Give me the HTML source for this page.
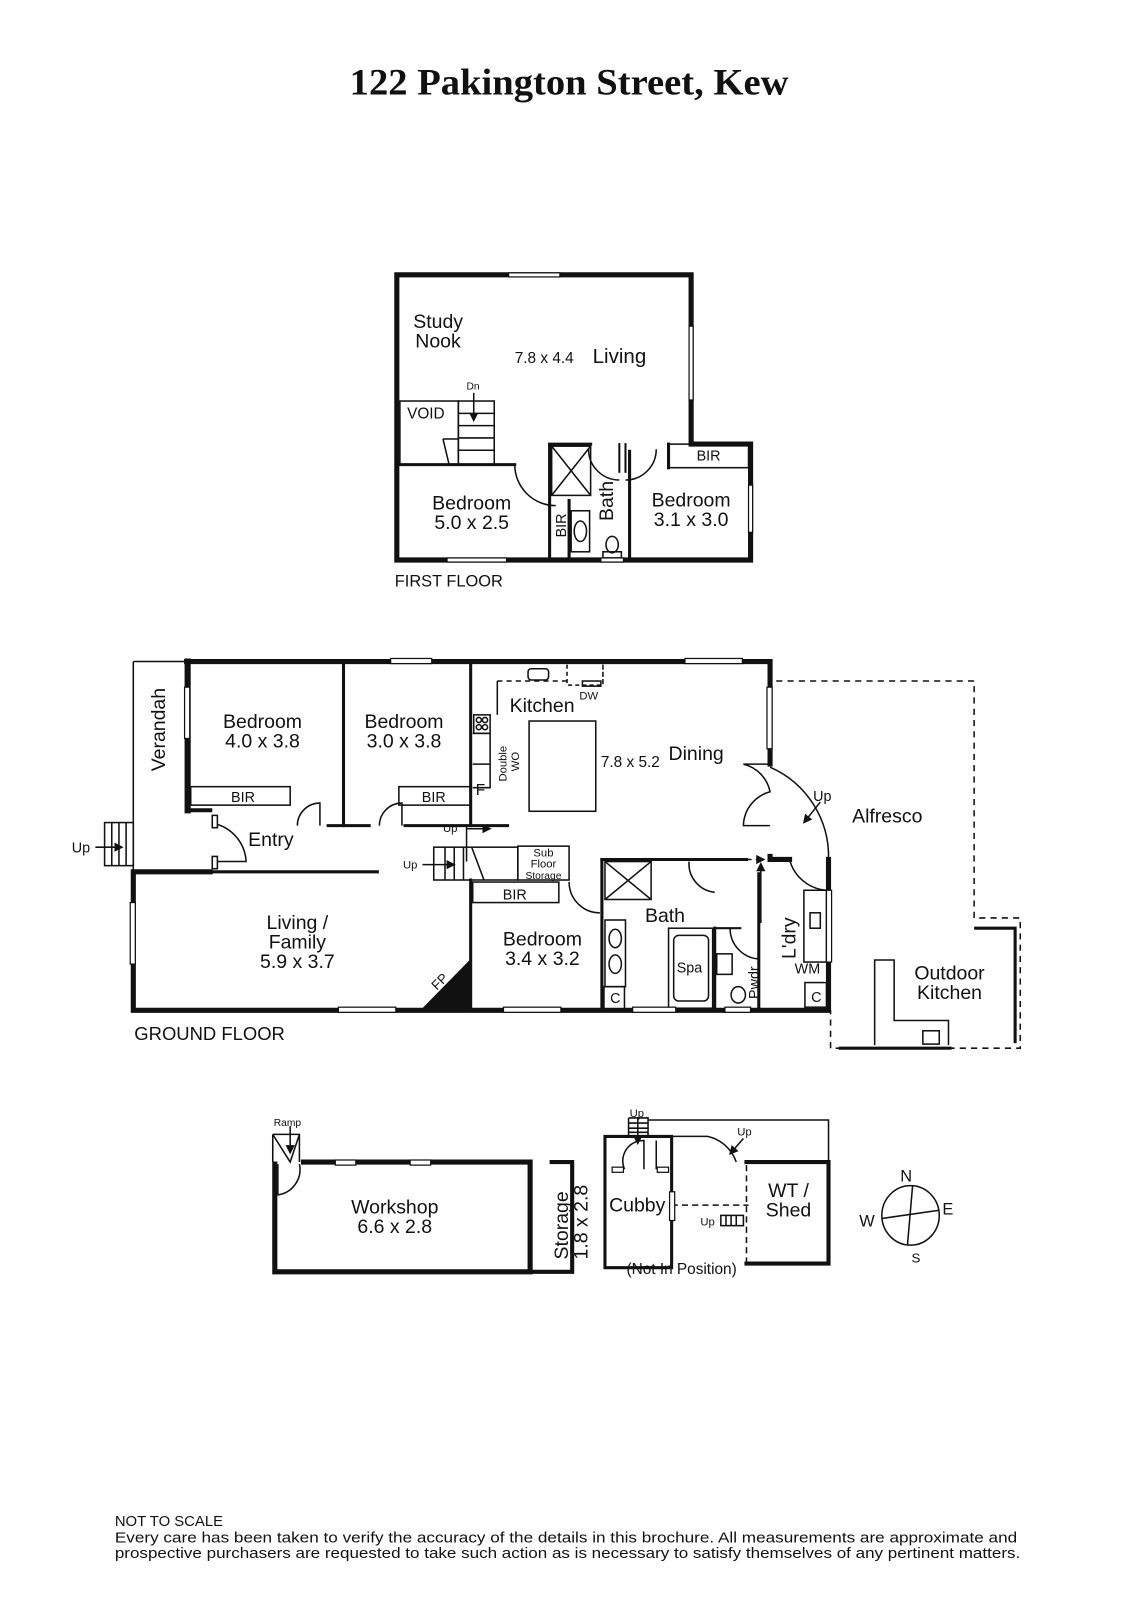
<!DOCTYPE html>
<html><head><meta charset="utf-8"><style>
html,body{margin:0;padding:0;background:#fff}
svg{display:block}
text{font-family:"Liberation Sans",sans-serif;fill:#111}
</style></head><body>
<svg width="1131" height="1600" viewBox="0 0 1103 1560" preserveAspectRatio="none" xmlns="http://www.w3.org/2000/svg">
<defs>
<marker id="ar" markerWidth="6" markerHeight="6" refX="5" refY="3" orient="auto"><path d="M0,0 L6,3 L0,6z" fill="#111"/></marker>
</defs>
<text x="555" y="92" text-anchor="middle" textLength="428" lengthAdjust="spacingAndGlyphs" style="font-family:'Liberation Serif',serif;font-weight:bold;font-size:36px">122 Pakington Street, Kew</text>

<!-- FIRST FLOOR -->
<g fill="none" stroke="#111" stroke-linecap="square">
<path d="M387,268 H674 V433 H732 V546 H387 Z" stroke-width="5"/>
<line x1="387" y1="453" x2="502" y2="453" stroke-width="3"/>
<line x1="536" y1="434" x2="536" y2="546" stroke-width="3"/>
<line x1="536" y1="433" x2="576" y2="433" stroke-width="3"/>
<line x1="614" y1="440" x2="614" y2="546" stroke-width="3"/>
<line x1="652" y1="433" x2="652" y2="456" stroke-width="3"/>
<line x1="604" y1="433" x2="604" y2="460" stroke-width="2"/>
<line x1="610" y1="433" x2="610" y2="460" stroke-width="2"/>
<line x1="555" y1="488" x2="555" y2="546" stroke-width="3"/>
</g>
<g fill="none" stroke="#111" stroke-width="1.5">
<rect x="390" y="391" width="57" height="62"/>
<rect x="447" y="391" width="35" height="62"/>
<line x1="447" y1="403" x2="482" y2="403"/><line x1="447" y1="415" x2="482" y2="415"/><line x1="447" y1="427" x2="482" y2="427"/><line x1="447" y1="439" x2="482" y2="439"/>
<line x1="432" y1="428" x2="447" y2="428"/><line x1="432" y1="428" x2="438" y2="453"/>
<line x1="462" y1="383" x2="462" y2="410" marker-end="url(#ar)"/>
<rect x="538" y="435" width="38" height="48"/><line x1="538" y1="435" x2="576" y2="483"/><line x1="576" y1="435" x2="538" y2="483"/>
<rect x="557" y="498" width="18" height="40"/><ellipse cx="566" cy="518" rx="6" ry="10"/>
<ellipse cx="597" cy="531" rx="6" ry="8"/><rect x="588" y="538" width="18" height="6"/>
<path d="M502,453 A40,40 0 0 0 542,493"/>
<path d="M574,438 A30,30 0 0 0 604,468"/>
<path d="M610,468 A30,30 0 0 0 640,438"/>
<rect x="652" y="433" width="78" height="23"/>
</g>
<g fill="#fff" stroke="#111" stroke-width="1.2">
<rect x="496" y="266" width="50" height="4"/><rect x="672" y="318" width="4" height="72"/><rect x="730" y="473" width="4" height="46"/><rect x="436" y="544" width="58" height="4"/><rect x="586" y="544" width="22" height="4"/>
</g>
<g font-size="19">
<text x="403" y="320">Study</text><text x="405" y="339">Nook</text>
<text x="502" y="354" font-size="15">7.8 x 4.4</text><text x="578" y="354" font-size="20">Living</text>
<text x="397" y="408" font-size="15">VOID</text><text x="455" y="380" font-size="10">Dn</text>
<text x="460" y="497" text-anchor="middle">Bedroom</text><text x="460" y="516" text-anchor="middle">5.0 x 2.5</text>
<text x="674" y="494" text-anchor="middle">Bedroom</text><text x="674" y="513" text-anchor="middle">3.1 x 3.0</text>
<text x="691" y="449" text-anchor="middle" font-size="14">BIR</text>
<text transform="translate(552,524) rotate(-90)" font-size="14">BIR</text>
<text transform="translate(598,508) rotate(-90)">Bath</text>
<text x="385" y="572" font-size="16">FIRST FLOOR</text>
</g>

<!-- GROUND FLOOR -->
<g fill="none" stroke="#111" stroke-linecap="square">
<path d="M182,645 H751 V745" stroke-width="5"/>
<path d="M751,835 V838 H770" stroke-width="5"/>
<path d="M808,838 V985 H130 V850 H205" stroke-width="5"/>
<line x1="183" y1="645" x2="183" y2="790" stroke-width="6"/>
<line x1="183" y1="790" x2="205" y2="790" stroke-width="4"/>
<line x1="205" y1="850" x2="368" y2="850" stroke-width="3"/>
<line x1="335" y1="645" x2="335" y2="805" stroke-width="3"/>
<line x1="459" y1="645" x2="459" y2="805" stroke-width="3"/>
<line x1="320" y1="805" x2="360" y2="805" stroke-width="3"/>
<line x1="395" y1="805" x2="495" y2="805" stroke-width="3"/>
<line x1="459" y1="858" x2="459" y2="985" stroke-width="3"/>
<line x1="587" y1="838" x2="587" y2="985" stroke-width="3"/>
<line x1="587" y1="838" x2="728" y2="838" stroke-width="3"/>
<line x1="740" y1="852" x2="740" y2="985" stroke-width="3"/>
<line x1="697" y1="905" x2="697" y2="985" stroke-width="3"/>
<line x1="697" y1="905" x2="722" y2="905" stroke-width="2"/>
</g>
<g fill="none" stroke="#111" stroke-width="1.5">
<path d="M130,645 V850 M130,645 H182"/>
<rect x="102" y="802" width="28" height="42"/><line x1="109" y1="802" x2="109" y2="844"/><line x1="116" y1="802" x2="116" y2="844"/><line x1="123" y1="802" x2="123" y2="844"/>
<line x1="93" y1="826" x2="119" y2="826" marker-end="url(#ar)"/>
<rect x="186" y="767" width="97" height="18"/>
<rect x="389" y="767" width="70" height="18"/>
<path d="M290,805 A22,22 0 0 1 312,783 V805"/>
<path d="M370,805 A22,22 0 0 1 392,783 V805"/>
<path d="M209,803 A40,40 0 0 1 240,840 H209"/>
<rect x="207" y="795" width="5" height="12" fill="#fff"/><rect x="207" y="835" width="5" height="12" fill="#fff"/>
<line x1="455" y1="805" x2="455" y2="840"/>
<line x1="455" y1="808" x2="478" y2="808" marker-end="url(#ar)"/>
<rect x="423" y="826" width="82" height="32"/><line x1="434" y1="826" x2="434" y2="858"/><line x1="443" y1="826" x2="443" y2="858"/><line x1="452" y1="826" x2="452" y2="858"/><line x1="460" y1="826" x2="472" y2="858"/>
<line x1="412" y1="843" x2="443" y2="843" marker-end="url(#ar)"/>
<rect x="505" y="825" width="50" height="33"/>
<rect x="461" y="860" width="84" height="20"/>
<path d="M555,860 A30,30 0 0 0 585,890"/>
<rect x="462" y="697" width="16" height="18"/><circle cx="467" cy="702" r="2.5"/><circle cx="473" cy="702" r="2.5"/><circle cx="467" cy="709" r="2.5"/><circle cx="473" cy="709" r="2.5"/>
<path d="M461,715 H478 V768 H461 M461,745 H478"/>
<line x1="485" y1="664" x2="485" y2="697"/>
<rect x="515" y="652" width="20" height="11" rx="3"/>
<path d="M485,664 H555" stroke-dasharray="5,4"/>
<path d="M553,648 V668 H588 V648 M588,648 V668" stroke-dasharray="4,3"/>
<rect x="568" y="664" width="18" height="5"/>
<rect x="516" y="703" width="65" height="88"/>
<rect x="590" y="840" width="45" height="37"/><path d="M590,840 L635,877 M635,840 L590,877"/>
<rect x="590" y="897" width="20" height="65"/><ellipse cx="600" cy="915" rx="6" ry="9"/><ellipse cx="600" cy="940" rx="6" ry="9"/>
<rect x="589" y="962" width="20" height="22"/>
<rect x="652" y="905" width="43" height="78"/><rect x="657" y="912" width="34" height="64" rx="5"/>
<path d="M672,840 A28,28 0 0 0 697,870"/>
<rect x="699" y="930" width="15" height="20"/>
<path d="M712,905 A30,30 0 0 0 740,935"/>
<ellipse cx="720" cy="970" rx="7" ry="8"/>
<line x1="710" y1="838" x2="745" y2="838" stroke-dasharray="5,4" marker-end="url(#ar)"/>
<line x1="742" y1="900" x2="742" y2="842" marker-end="url(#ar)"/>
<rect x="784" y="868" width="22" height="70"/><rect x="790" y="890" width="10" height="15"/>
<rect x="785" y="958" width="21" height="24"/>
<path d="M751,745 H725 A35,35 0 0 1 751,772 A35,35 0 0 0 725,805 H751"/>
<path d="M751,748 A95,95 0 0 1 808,838"/>
<path d="M770,838 A40,40 0 0 0 806,868"/>
<line x1="800" y1="782" x2="784" y2="802" marker-end="url(#ar)"/>
<path d="M757,664 H950 V895 H995 V1022 H810 V985" stroke-dasharray="6,5"/>
<path d="M950,905 H990 V1017" stroke-width="3"/>
<line x1="818" y1="1022" x2="928" y2="1022" stroke-width="3"/>
<path d="M853,1019 V936 H872 V995 H925 V1019"/>
<rect x="900" y="1005" width="16" height="13"/>
</g>
<path d="M410,985 L459,935 L459,985 Z" fill="#111"/>
<g fill="#fff" stroke="#111" stroke-width="1.2">
<rect x="381" y="642" width="40" height="5"/><rect x="668" y="642" width="56" height="5"/>
<rect x="180" y="670" width="5" height="50"/><rect x="127" y="880" width="5" height="60"/>
<rect x="748" y="670" width="5" height="60"/><rect x="806" y="868" width="5" height="70"/>
<rect x="330" y="982" width="56" height="5"/><rect x="491" y="982" width="56" height="5"/><rect x="617" y="982" width="42" height="5"/><rect x="707" y="982" width="25" height="5"/>
</g>
<g font-size="19">
<text transform="translate(161,752) rotate(-90)">Verandah</text>
<text x="70" y="831" font-size="14">Up</text>
<text x="256" y="710" text-anchor="middle">Bedroom</text><text x="256" y="729" text-anchor="middle">4.0 x 3.8</text>
<text x="394" y="710" text-anchor="middle">Bedroom</text><text x="394" y="729" text-anchor="middle">3.0 x 3.8</text>
<text x="237" y="782" text-anchor="middle" font-size="14">BIR</text><text x="423" y="782" text-anchor="middle" font-size="14">BIR</text>
<text x="242" y="825">Entry</text>
<text x="464" y="775" font-size="15">F</text>
<text transform="translate(494,762) rotate(-90)" font-size="11">Double</text>
<text transform="translate(506,752) rotate(-90)" font-size="11">WO</text>
<text x="497" y="694">Kitchen</text><text x="565" y="682" font-size="11">DW</text>
<text x="586" y="748" font-size="15">7.8 x 5.2</text><text x="652" y="741">Dining</text>
<text x="432" y="811" font-size="11">Up</text><text x="393" y="847" font-size="11">Up</text>
<text x="530" y="835" text-anchor="middle" font-size="11">Sub</text><text x="530" y="846" text-anchor="middle" font-size="11">Floor</text><text x="530" y="857" text-anchor="middle" font-size="10">Storage</text>
<text x="502" y="877" text-anchor="middle" font-size="14">BIR</text>
<text x="290" y="906" text-anchor="middle">Living /</text><text x="290" y="925" text-anchor="middle">Family</text><text x="290" y="944" text-anchor="middle">5.9 x 3.7</text>
<text transform="translate(426,966) rotate(-45)" font-size="13">FP</text>
<text x="529" y="922" text-anchor="middle">Bedroom</text><text x="529" y="941" text-anchor="middle">3.4 x 3.2</text>
<text x="629" y="899">Bath</text><text x="660" y="948" font-size="14">Spa</text>
<text x="595" y="978" font-size="14">C</text><text x="791" y="977" font-size="14">C</text>
<text transform="translate(740,974) rotate(-90)" font-size="14">Pwdr</text>
<text transform="translate(776,935) rotate(-90)">L'dry</text>
<text x="775" y="949" font-size="14">WM</text>
<text x="793" y="781" font-size="14">Up</text>
<text x="831" y="802">Alfresco</text>
<text x="926" y="955" text-anchor="middle">Outdoor</text><text x="926" y="974" text-anchor="middle">Kitchen</text>
<text x="131" y="1014" font-size="18">GROUND FLOOR</text>
</g>

<!-- OUTBUILDINGS -->
<g fill="none" stroke="#111" stroke-linecap="square">
<path d="M268,1135 V1240 H517 V1133 H296" stroke-width="5"/>
<path d="M520,1240 H558 V1133 H538" stroke-width="4"/>
<path d="M590,1108 V1236 H655 V1108 Z" stroke-width="3"/>
<path d="M728,1133 H808 V1232 H728" stroke-width="4"/>
</g>
<g fill="none" stroke="#111" stroke-width="1.5">
<path d="M266,1106 H292 V1133 M266,1106 V1133 M266,1106 L283,1133 L292,1106"/>
<path d="M271,1135 V1165 A25,25 0 0 0 292,1135"/>
<line x1="283" y1="1098" x2="283" y2="1124" marker-end="url(#ar)"/>
<path d="M613,1090 H632 V1108 M613,1090 V1108"/>
<line x1="613" y1="1095" x2="632" y2="1095"/><line x1="613" y1="1100" x2="632" y2="1100"/><line x1="613" y1="1104" x2="632" y2="1104"/>
<line x1="622" y1="1090" x2="622" y2="1115" marker-end="url(#ar)"/>
<path d="M632,1092 H808 V1133"/>
<path d="M655,1108 H690 A38,38 0 0 1 718,1133"/>
<line x1="725" y1="1110" x2="712" y2="1125" marker-end="url(#ar)"/>
<path d="M628,1140 V1112 A20,20 0 0 0 609,1140"/>
<line x1="640" y1="1112" x2="640" y2="1140"/>
<path d="M655,1175 H730 M728,1136 V1230" stroke-dasharray="6,4"/>
<rect x="703" y="1185" width="22" height="10"/><line x1="708" y1="1185" x2="708" y2="1195"/><line x1="713" y1="1185" x2="713" y2="1195"/><line x1="718" y1="1185" x2="718" y2="1195"/>
<ellipse cx="888" cy="1185" rx="28" ry="29"/><line x1="890" y1="1156" x2="885" y2="1214"/><line x1="860" y1="1188" x2="916" y2="1180"/>
</g>
<g fill="#fff" stroke="#111" stroke-width="1.2">
<rect x="327" y="1131" width="20" height="5"/><rect x="400" y="1131" width="20" height="5"/>
<rect x="597" y="1138" width="11" height="5"/><rect x="641" y="1138" width="11" height="5"/><rect x="653" y="1162" width="5" height="28"/>
</g>
<g font-size="19">
<text x="267" y="1098" font-size="10">Ramp</text>
<text x="385" y="1183" text-anchor="middle">Workshop</text><text x="385" y="1202" text-anchor="middle">6.6 x 2.8</text>
<text transform="translate(554,1228) rotate(-90)">Storage</text><text transform="translate(573,1228) rotate(-90)">1.8 x 2.8</text>
<text x="594" y="1181">Cubby</text>
<text x="769" y="1167" text-anchor="middle">WT /</text><text x="769" y="1186" text-anchor="middle">Shed</text>
<text x="614" y="1089" font-size="11">Up</text><text x="719" y="1107" font-size="11">Up</text><text x="683" y="1195" font-size="11">Up</text>
<text x="611" y="1242" font-size="15">(Not In Position)</text>
<text x="878" y="1152" font-size="16">N</text><text x="838" y="1196" font-size="16">W</text><text x="919" y="1184" font-size="16">E</text><text x="889" y="1231" font-size="13">S</text>
</g>

<g font-size="14.5">
<text x="112" y="1488">NOT TO SCALE</text>
<text x="112" y="1504" textLength="880" lengthAdjust="spacingAndGlyphs">Every care has been taken to verify the accuracy of the details in this brochure. All measurements are approximate and</text>
<text x="112" y="1519" textLength="883" lengthAdjust="spacingAndGlyphs">prospective purchasers are requested to take such action as is necessary to satisfy themselves of any pertinent matters.</text>
</g>
</svg>
</body></html>
